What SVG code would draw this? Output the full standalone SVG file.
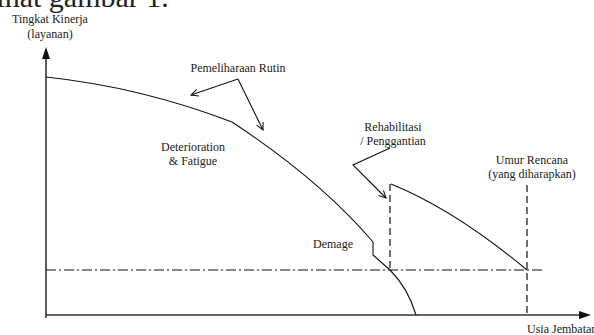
<svg xmlns="http://www.w3.org/2000/svg" width="594" height="335" viewBox="0 0 594 335">
<style>
text{font-family:"Liberation Serif","Times New Roman",serif;fill:#222;font-size:12px}
.c{text-anchor:middle}
.ln{fill:none;stroke:#111;stroke-width:1.1}
.ax{fill:none;stroke:#333;stroke-width:1.6}
.dash{fill:none;stroke:#111;stroke-width:1.2;stroke-dasharray:7 4}
.dd{fill:none;stroke:#111;stroke-width:1;stroke-dasharray:10 3 2 3}
</style>
<defs>
<marker id="open" viewBox="0 0 10 10" refX="9" refY="5" markerWidth="9" markerHeight="9" markerUnits="userSpaceOnUse" orient="auto">
<path d="M1,1 L9,5 L1,9" fill="none" stroke="#111" stroke-width="1.2"/>
</marker>
</defs>
<text x="-12" y="7" font-family="Liberation Serif, serif" style="font-size:30px">lihat gambar 1.</text>
<g id="axes">
<path class="ax" d="M46,318 V58"/>
<polygon points="46,47 42,59 50,59" fill="#111"/>
<path class="ax" d="M46,315 H580"/>
<polygon points="591,315 579,311 579,319" fill="#111"/>
</g>
<g id="labels" font-family="Liberation Serif, serif">
<g id="y-label"><text class="c" x="50" y="23">Tingkat Kinerja</text><text class="c" x="50" y="38">(layanan)</text></g>
<g id="x-label"><text x="527" y="333">Usia Jembatan</text></g>
<g id="pemeliharaan"><text class="c" x="238" y="72">Pemeliharaan Rutin</text></g>
<g id="deterioration"><text class="c" x="193" y="151">Deterioration</text><text class="c" x="193" y="165">&amp; Fatigue</text></g>
<g id="rehabilitasi"><text class="c" x="393" y="131">Rehabilitasi</text><text class="c" x="393" y="145">/ Penggantian</text></g>
<g id="umur"><text class="c" x="532" y="164">Umur Rencana</text><text class="c" x="532" y="178">(yang diharapkan)</text></g>
<g id="demage"><text class="c" x="333" y="248">Demage</text></g>
</g>
<g id="connectors">
<path class="ln" d="M46,77 Q140,87 232,122 Q320,180 373,242 L373,255 L390,270 Q408,288 416,315"/>
<path class="ln" d="M391,184 Q455,210 527,270"/>
<path class="dash" d="M390,184 V270"/>
<path class="dash" d="M527,185 V315"/>
<path class="dd" d="M46,270 H544"/>
<path class="ln" d="M238,79 L191,95" marker-end="url(#open)"/>
<path class="ln" d="M238,79 L263,130" marker-end="url(#open)"/>
<path class="ln" d="M390,148 L353,165 L386,198" marker-end="url(#open)"/>
</g>
</svg>
